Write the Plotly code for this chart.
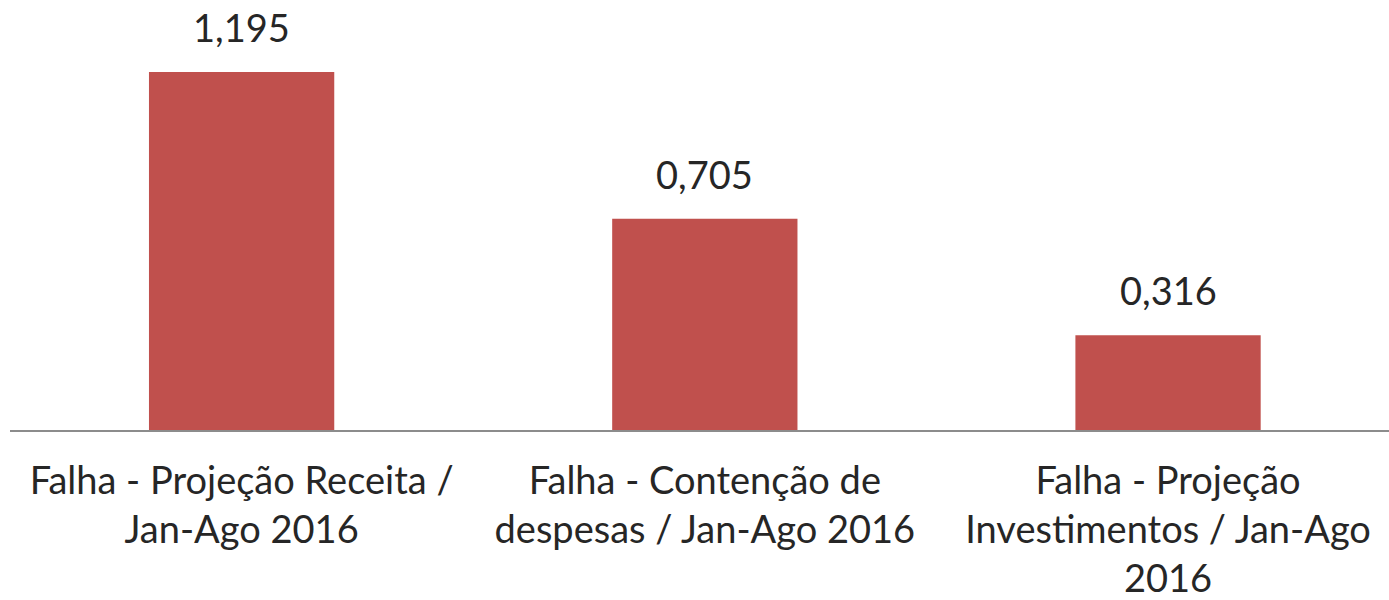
import plotly.graph_objects as go

categories = [
    "Falha - Projeção Receita /<br>Jan-Ago 2016",
    "Falha - Contenção de<br>despesas / Jan-Ago 2016",
    "Falha - Projeção<br>Investimentos / Jan-Ago<br>2016",
]
values = [1.195, 0.705, 0.316]
labels = [f"{v:.3f}".replace(".", ",") for v in values]

BAR_COLOR = "#C0504D"
TEXT_COLOR = "#262626"
FONT = "Lato, 'Open Sans', sans-serif"
SIZE = 38

fig = go.Figure(
    go.Bar(
        x=list(range(len(categories))),
        y=values,
        width=0.4,
        marker=dict(color=BAR_COLOR, line=dict(width=0)),
        hoverinfo="skip",
    )
)

for i, (v, t) in enumerate(zip(values, labels)):
    fig.add_annotation(
        x=i, y=v, text=t, showarrow=False,
        yanchor="bottom", yshift=20,
        font=dict(family=FONT, size=SIZE, color=TEXT_COLOR),
    )

fig.update_layout(
    width=1389, height=600,
    margin=dict(l=10, r=0, t=10, b=170),
    paper_bgcolor="white", plot_bgcolor="white",
    showlegend=False,
    font=dict(family=FONT, size=SIZE, color=TEXT_COLOR),
)
fig.update_xaxes(
    range=[-0.5, 2.477],
    tickmode="array",
    tickvals=list(range(len(categories))),
    ticktext=categories,
    showline=True, linecolor="#8C8C8C", linewidth=2,
    showgrid=False, zeroline=False, ticks="",
    ticklabelstandoff=16,
    tickfont=dict(family=FONT, size=SIZE, color=TEXT_COLOR),
)
fig.update_yaxes(
    range=[0, 1.402],
    visible=False, showgrid=False, zeroline=False,
)

fig.write_html("out.html")
